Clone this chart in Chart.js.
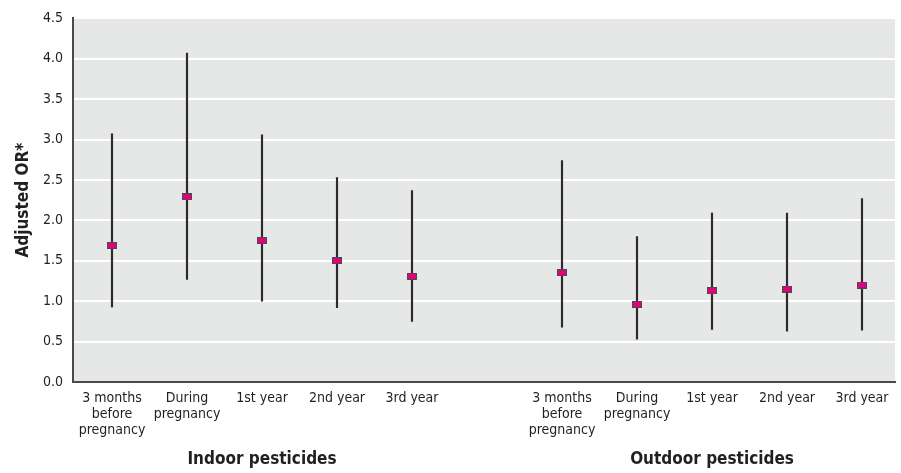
<!DOCTYPE html>
<html>
<head>
<meta charset="utf-8">
<script src="https://cdn.jsdelivr.net/npm/chart.js@4.4.1/dist/chart.umd.min.js"></script>
<style>
  html, body { margin: 0; padding: 0; background: #fff; }
  #wrap { width: 901px; height: 473px; }
</style>
</head>
<body>
<div id="wrap"><canvas id="or-chart"></canvas></div>
<script>
const FONT = "'Liberation Sans Narrow', 'DejaVu Sans Condensed', 'Liberation Sans', sans-serif";

let periods = [
    ['3 months', 'before', 'pregnancy'],
    ['During', 'pregnancy'],
    '1st year',
    '2nd year',
    '3rd year'
];
let groups = ['Indoor pesticides', 'Outdoor pesticides'];

// adjusted OR and 95% CI, per group in period order
let indoorOR = [1.69, 2.29, 1.75, 1.50, 1.31];
let indoorLow = [0.93, 1.27, 1.00, 0.92, 0.75];
let indoorHigh = [3.07, 4.07, 3.06, 2.53, 2.37];

let outdoorOR = [1.35, 0.96, 1.13, 1.15, 1.20];
let outdoorLow = [0.68, 0.53, 0.65, 0.63, 0.64];
let outdoorHigh = [2.74, 1.80, 2.09, 2.09, 2.27];

let yTicks = [0, 0.5, 1, 1.5, 2, 2.5, 3, 3.5, 4, 4.5];

// one empty slot between the two groups
function slotOf(group, i) {
    return group * (periods.length + 1) + i;
}

let pointsData = [];
let barsData = [];
[[indoorOR, indoorLow, indoorHigh], [outdoorOR, outdoorLow, outdoorHigh]].forEach((g, gi) => {
    g[0].forEach((v, i) => {
        pointsData.push({ x: slotOf(gi, i), y: v });
        barsData.push({ x: slotOf(gi, i), y: [g[1][i], g[2][i]] });
    });
});

// small pink rectangle marker
const marker = document.createElement('canvas');
marker.width = 10;
marker.height = 7;
const mctx = marker.getContext('2d');
mctx.fillStyle = '#4a4a4a';
mctx.fillRect(0, 0, 10, 7);
mctx.fillStyle = '#e6007e';
mctx.fillRect(1, 1, 8, 5);

const plotBackground = {
    id: 'plotBackground',
    beforeDraw(chart) {
        const { ctx, chartArea } = chart;
        ctx.save();
        ctx.fillStyle = '#e6e7e7';
        ctx.fillRect(chartArea.left, chartArea.top, chartArea.right - chartArea.left, chartArea.bottom - chartArea.top);
        ctx.restore();
    }
};

const groupTitles = {
    id: 'groupTitles',
    afterDraw(chart) {
        const { ctx } = chart;
        const x = chart.scales.x;
        ctx.save();
        ctx.font = 'bold 17px ' + FONT;
        ctx.fillStyle = '#231f20';
        ctx.textAlign = 'center';
        ctx.textBaseline = 'middle';
        groups.forEach((name, gi) => {
            const mid = (slotOf(gi, 0) + slotOf(gi, periods.length - 1)) / 2;
            ctx.fillText(name, x.getPixelForValue(mid), 460);
        });
        ctx.restore();
    }
};

let chartInstance = new Chart(document.getElementById('or-chart'), {
    type: 'bar',
    data: {
        datasets: [
            {
                type: 'scatter',
                data: pointsData,
                pointStyle: marker,
                pointRadius: 5,
                order: 0
            },
            {
                type: 'bar',
                data: barsData,
                backgroundColor: '#2b2b2b',
                barThickness: 1.5,
                order: 1
            }
        ]
    },
    options: {
        responsive: true,
        maintainAspectRatio: false,
        animation: false,
        layout: { padding: { top: 15, right: 6, left: 0, bottom: 0 } },
        plugins: {
            legend: { display: false },
            tooltip: { enabled: false }
        },
        scales: {
            x: {
                type: 'linear',
                offset: false,
                min: -0.52,
                max: 10.44,
                afterBuildTicks(axis) {
                    let t = [];
                    groups.forEach((g, gi) => periods.forEach((p, i) => t.push({ value: slotOf(gi, i) })));
                    axis.ticks = t;
                },
                afterFit(axis) { axis.height = 91; },
                ticks: {
                    callback: (v) => periods[v % (periods.length + 1)],
                    autoSkip: false,
                    maxRotation: 0,
                    padding: 8,
                    color: '#231f20',
                    font: { family: FONT, size: 14, lineHeight: 1.15 }
                },
                grid: { display: false, drawTicks: false },
                border: { display: true, color: '#4a4a4a', width: 2 }
            },
            y: {
                min: 0,
                max: 4.5,
                afterBuildTicks(axis) {
                    axis.ticks = yTicks.map(v => ({ value: v }));
                },
                afterFit(axis) { axis.width = 73; },
                ticks: {
                    callback: (v) => v.toFixed(1),
                    padding: 10,
                    color: '#231f20',
                    font: { family: FONT, size: 14 }
                },
                title: {
                    display: true,
                    text: 'Adjusted OR*',
                    color: '#231f20',
                    font: { family: FONT, size: 17, weight: 'bold' },
                    padding: { top: 13, bottom: 0 }
                },
                grid: { color: '#ffffff', lineWidth: 2, drawTicks: false },
                border: { display: true, color: '#4a4a4a', width: 2 }
            }
        }
    },
    plugins: [plotBackground, groupTitles]
});
</script>
</body>
</html>
